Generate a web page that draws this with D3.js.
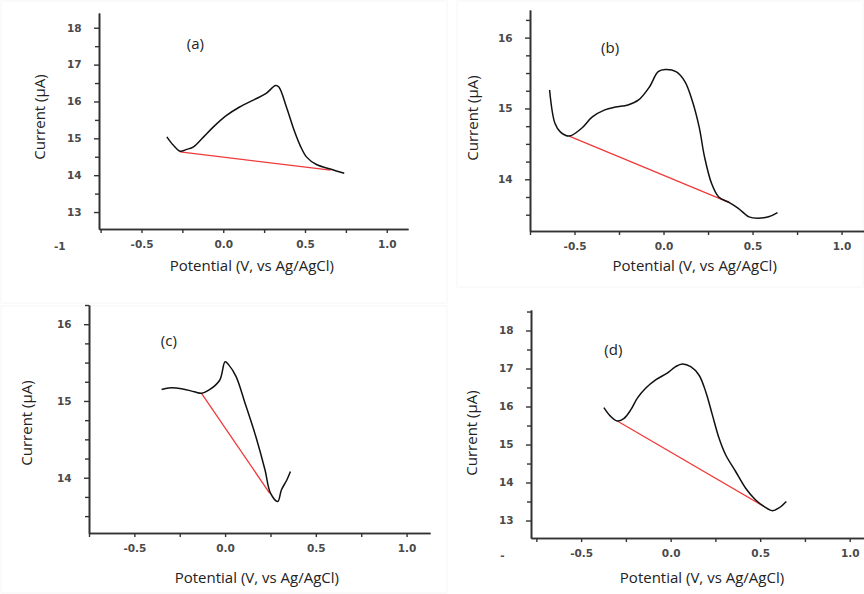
<!DOCTYPE html>
<html>
<head>
<meta charset="utf-8">
<script src="https://cdn.jsdelivr.net/npm/d3@7"></script>
<style>
  body { margin: 0; background: #fff; }
  .tick_label { font-family: "DejaVu Sans", sans-serif; font-weight: bold; font-size: 10.5px; fill: #4a4a4a; }
  .axis_title { font-family: "Open Sans", sans-serif; font-size: 15px; fill: #222; }
  .panel_label { font-family: "Open Sans", sans-serif; font-size: 15px; fill: #222; }
</style>
</head>
<body>
<div id="chart"></div>
<script>
// (a)
const potential_a = [-0.345, -0.305, -0.264, -0.223, -0.182, -0.12, -0.06, 0.02, 0.10, 0.19, 0.26, 0.32, 0.34, 0.39, 0.43, 0.47, 0.51, 0.57, 0.66, 0.74];
const current_a = [15.04, 14.81, 14.65, 14.70, 14.77, 15.04, 15.31, 15.62, 15.85, 16.05, 16.21, 16.43, 16.39, 15.8, 15.26, 14.81, 14.49, 14.29, 14.16, 14.05];
const baseline_a = [[-0.264, 14.63], [0.656, 14.14]];

// (b)
const potential_b = [-0.64, -0.61, -0.58, -0.53, -0.46, -0.40, -0.33, -0.27, -0.20, -0.14, -0.08, -0.03, 0.01, 0.07, 0.12, 0.16, 0.20, 0.23, 0.27, 0.31, 0.37, 0.42, 0.48, 0.53, 0.59, 0.64];
const current_b = [15.26, 14.79, 14.67, 14.61, 14.72, 14.88, 14.98, 15.02, 15.05, 15.12, 15.3, 15.52, 15.55, 15.52, 15.38, 15.12, 14.74, 14.32, 13.94, 13.75, 13.67, 13.59, 13.47, 13.45, 13.47, 13.53];
const baseline_b = [[-0.53, 14.61], [0.37, 13.67]];

// (c)
const potential_c = [-0.35, -0.31, -0.24, -0.17, -0.13, -0.09, -0.03, 0.0, 0.02, 0.06, 0.11, 0.17, 0.22, 0.25, 0.29, 0.31, 0.34, 0.36];
const current_c = [15.15, 15.17, 15.16, 15.12, 15.1, 15.14, 15.27, 15.51, 15.47, 15.32, 14.97, 14.53, 14.1, 13.8, 13.69, 13.84, 13.97, 14.08];
const baseline_c = [[-0.13, 15.1], [0.245, 13.8]];

// (d)
const potential_d = [-0.373, -0.335, -0.298, -0.26, -0.223, -0.186, -0.14, -0.084, -0.019, 0.028, 0.065, 0.112, 0.158, 0.196, 0.233, 0.27, 0.307, 0.363, 0.419, 0.475, 0.521, 0.568, 0.605, 0.646];
const current_d = [15.97, 15.74, 15.62, 15.69, 15.91, 16.22, 16.48, 16.70, 16.88, 17.05, 17.12, 17.05, 16.83, 16.39, 15.78, 15.17, 14.73, 14.29, 13.85, 13.54, 13.37, 13.26, 13.33, 13.50];
const baseline_d = [[-0.298, 15.62], [0.521, 13.37]];

const x_ticks = [-0.5, 0.0, 0.5, 1.0];
const x_minor = [-0.75, -0.25, 0.25, 0.75];

const svg = d3.select('#chart')
  .append('svg')
  .attr('width', 864)
  .attr('height', 594);

// faint frames around the pasted panels
const frames = [[1, 1, 446, 302], [457, 1, 406, 286], [1, 306, 446, 287]];
svg.selectAll('.frame')
  .data(frames)
  .enter()
  .append('rect')
  .attr('x', d => d[0]).attr('y', d => d[1])
  .attr('width', d => d[2]).attr('height', d => d[3])
  .attr('fill', 'none')
  .attr('stroke', '#f6f6f6');

function hyphen_fmt(d) {
  return d.toFixed(1);
}

function panel(options) {
  const left = options.left, top = options.top;
  const right = options.right, bottom = options.bottom;

  const g = svg.append('g');

  const x = d3.scaleLinear().domain(options.x_domain).range([left, right]);
  const y = d3.scaleLinear().domain(options.y_domain).range([bottom, top]);

  // axes
  const xg = g.append('g')
    .attr('transform', 'translate(0,' + bottom + ')')
    .call(d3.axisBottom(x).tickValues(x_ticks).tickFormat(hyphen_fmt).tickSize(4).tickSizeOuter(0));
  g.append('g')
    .attr('transform', 'translate(0,' + bottom + ')')
    .call(d3.axisBottom(x).tickValues(x_minor).tickFormat('').tickSize(4).tickSizeOuter(0));
  const yg = g.append('g')
    .attr('transform', 'translate(' + left + ',0)')
    .call(d3.axisLeft(y).tickValues(options.y_ticks).tickFormat(d => String(d)).tickSize(5).tickSizeOuter(0));
  g.append('g')
    .attr('transform', 'translate(' + left + ',0)')
    .call(d3.axisLeft(y).tickValues(options.y_minor).tickFormat('').tickSize(4).tickSizeOuter(0));

  g.selectAll('.domain').attr('stroke', '#333').attr('stroke-width', 1.6);
  g.selectAll('.tick line').attr('stroke', '#333').attr('stroke-width', 1.4);
  xg.selectAll('.tick text').attr('class', 'tick_label').attr('dy', '1.15em');
  yg.selectAll('.tick text').attr('class', 'tick_label').attr('dx', '-0.9em');
  g.selectAll('.tick text').attr('font-family', null).attr('font-size', null).attr('fill', null);
  g.selectAll('g').attr('font-family', null).attr('font-size', null);

  if (options.stray) {
    g.append('text')
      .attr('class', 'tick_label')
      .attr('x', x(options.stray.value))
      .attr('y', bottom + 21)
      .attr('text-anchor', 'middle')
      .text(options.stray.text);
  }

  // titles
  g.append('text')
    .attr('class', 'axis_title')
    .attr('x', (x(-0.75) + x(1.1)) / 2)
    .attr('y', bottom + options.x_title_gap)
    .attr('text-anchor', 'middle')
    .text('Potential (V, vs Ag/AgCl)');

  g.append('text')
    .attr('class', 'axis_title')
    .attr('transform', 'translate(' + (left - options.y_title_gap) + ',' + options.y_title_mid + ') rotate(-90)')
    .attr('text-anchor', 'middle')
    .attr('dy', '0.35em')
    .text('Current (\u03bcA)');

  g.append('text')
    .attr('class', 'panel_label')
    .attr('x', x(options.label_at[0]))
    .attr('y', y(options.label_at[1]))
    .attr('text-anchor', 'middle')
    .attr('dy', '0.35em')
    .text(options.label);

  // baseline and measured curve
  const line = d3.line().x(d => x(d[0])).y(d => y(d[1]));
  g.append('path')
    .attr('d', line(options.baseline))
    .attr('fill', 'none')
    .attr('stroke', '#f03a3a')
    .attr('stroke-width', 1.3);

  const pts = options.potential.map((v, i) => [v, options.current[i]]);
  g.append('path')
    .attr('d', line.curve(d3.curveCatmullRom.alpha(0.5))(pts))
    .attr('fill', 'none')
    .attr('stroke', '#111')
    .attr('stroke-width', 1.5);
}

panel({
  left: 99, right: 408, top: 13, bottom: 229,
  x_domain: [-0.76, 1.13], y_domain: [12.54, 18.4],
  y_ticks: [13, 14, 15, 16, 17, 18], y_minor: [13.5, 14.5, 15.5, 16.5, 17.5],
  potential: potential_a, current: current_a, baseline: baseline_a,
  label: '(a)', label_at: [-0.17, 17.57],
  stray: {value: -1.0, text: '-1'},
  x_title_gap: 42, y_title_gap: 59, y_title_mid: 117
});

panel({
  left: 530, right: 864, top: 10, bottom: 231,
  x_domain: [-0.75, 1.126], y_domain: [13.27, 16.39],
  y_ticks: [14, 15, 16], y_minor: [13.5, 13.75, 14.25, 14.5, 14.75, 15.25, 15.5, 15.75, 16.25],
  potential: potential_b, current: current_b, baseline: baseline_b,
  label: '(b)', label_at: [-0.3, 15.86],
  x_title_gap: 40, y_title_gap: 57, y_title_mid: 118
});

panel({
  left: 89, right: 430, top: 305, bottom: 533,
  x_domain: [-0.75, 1.129], y_domain: [13.28, 16.25],
  y_ticks: [14, 15, 16], y_minor: [13.5, 13.75, 14.25, 14.5, 14.75, 15.25, 15.5, 15.75, 16.25],
  potential: potential_c, current: current_c, baseline: baseline_c,
  label: '(c)', label_at: [-0.31, 15.79],
  x_title_gap: 50, y_title_gap: 62, y_title_mid: 423
});

panel({
  left: 531, right: 864, top: 310, bottom: 538,
  x_domain: [-0.78, 1.08], y_domain: [12.54, 18.54],
  y_ticks: [13, 14, 15, 16, 17, 18], y_minor: [13.5, 14.5, 15.5, 16.5, 17.5, 18.5],
  potential: potential_d, current: current_d, baseline: baseline_d,
  label: '(d)', label_at: [-0.32, 17.5],
  stray: {value: -0.94, text: '-'},
  x_title_gap: 45, y_title_gap: 59, y_title_mid: 433
});
</script>
</body>
</html>
